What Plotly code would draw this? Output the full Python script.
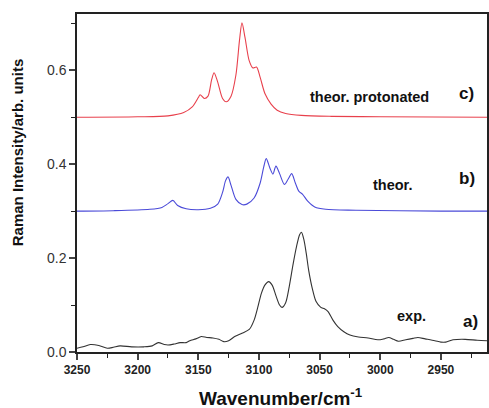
import plotly.graph_objects as go

# ---- data ----
red_x = [3250, 3200, 3175, 3162, 3155, 3150, 3148.5, 3145, 3142, 3139, 3137, 3134, 3130, 3127, 3123,
         3119, 3116, 3114, 3111.5, 3108, 3105, 3102, 3099, 3095, 3090, 3085, 3078, 3065, 3040, 3000, 2912]
red_y = [0.500, 0.501, 0.503, 0.510, 0.522, 0.542, 0.548, 0.540, 0.545, 0.580, 0.595, 0.575, 0.540, 0.533, 0.545,
         0.590, 0.665, 0.701, 0.670, 0.620, 0.605, 0.607, 0.585, 0.550, 0.528, 0.515, 0.508, 0.504, 0.502, 0.501, 0.500]

blue_x = [3250, 3220, 3190, 3180, 3175, 3171, 3167, 3160, 3150, 3140, 3134, 3130, 3127.5, 3125.5, 3123,
          3119, 3114, 3110, 3104, 3099, 3096, 3094, 3091, 3088.5, 3086, 3083, 3079, 3076, 3073, 3070,
          3067, 3064, 3060, 3054, 3045, 3020, 2950, 2912]
blue_y = [0.300, 0.301, 0.304, 0.308, 0.316, 0.323, 0.312, 0.305, 0.303, 0.306, 0.315, 0.340, 0.365, 0.373, 0.355,
          0.325, 0.314, 0.315, 0.328, 0.360, 0.395, 0.412, 0.392, 0.379, 0.396, 0.380, 0.357, 0.368, 0.380, 0.360,
          0.342, 0.336, 0.322, 0.309, 0.304, 0.302, 0.300, 0.300]

black_x = [3250, 3245, 3239, 3232, 3225, 3220, 3214.5, 3205, 3195, 3188, 3183, 3178, 3175, 3170, 3165, 3160,
           3157, 3152, 3147.5, 3143, 3138, 3133, 3129, 3125, 3120, 3114, 3108, 3104, 3101, 3098, 3095, 3092,
           3089, 3086, 3083, 3081, 3078, 3075, 3072, 3069, 3066.5, 3065, 3063, 3061, 3059, 3056, 3053, 3049,
           3046, 3043, 3039, 3035, 3030, 3025, 3018, 3010, 3002, 2997, 2993, 2989, 2985, 2979, 2973, 2969,
           2963, 2955, 2950, 2946, 2940, 2930, 2920, 2912]
black_y = [0.008, 0.011, 0.016, 0.014, 0.008, 0.010, 0.013, 0.011, 0.011, 0.013, 0.020, 0.016, 0.015, 0.017, 0.020, 0.020,
           0.024, 0.028, 0.033, 0.031, 0.030, 0.027, 0.022, 0.024, 0.033, 0.040, 0.048, 0.068, 0.095, 0.125, 0.143, 0.150,
           0.142, 0.120, 0.100, 0.095, 0.105, 0.140, 0.185, 0.225, 0.250, 0.255, 0.240, 0.210, 0.174, 0.135, 0.108, 0.095,
           0.092, 0.086, 0.068, 0.054, 0.043, 0.036, 0.032, 0.030, 0.026, 0.028, 0.031, 0.027, 0.023, 0.026, 0.029, 0.031,
           0.028, 0.024, 0.021, 0.021, 0.026, 0.027, 0.025, 0.024]

x_ticks = [3250, 3200, 3150, 3100, 3050, 3000, 2950]
y_ticks = [0.0, 0.2, 0.4, 0.6]
y_tick_labels = ["0.0", "0.2", "0.4", "0.6"]

labels = [("theor. protonated", 3008.8, 0.543, 14.5), ("c)", 2929, 0.551, 17),
          ("theor.", 2990, 0.355, 14.5), ("b)", 2928.5, 0.370, 17),
          ("exp.", 2974.4, 0.077, 14.5), ("a)", 2926, 0.066, 17)]

FONT = "Liberation Sans, Arial"

fig = go.Figure()
fig.add_trace(go.Scatter(x=black_x, y=black_y, mode="lines", line=dict(color="#333333", width=1.1, shape="spline", smoothing=0.8)))
fig.add_trace(go.Scatter(x=blue_x, y=blue_y, mode="lines", line=dict(color="#4a4ad8", width=1.1, shape="spline", smoothing=0.8)))
fig.add_trace(go.Scatter(x=red_x, y=red_y, mode="lines", line=dict(color="#e8404c", width=1.1, shape="spline", smoothing=0.8)))

for txt, xv, yv, sz in labels:
    fig.add_annotation(x=xv, y=yv, text=txt, showarrow=False, xanchor="center", yanchor="middle",
                       font=dict(family=FONT, size=sz, color="#111111", weight="bold"))

fig.add_annotation(xref="paper", yref="paper", x=(17.5 - 77) / 412, y=(352 - 152.5) / 338, text="Raman Intensity/arb. units",
                   textangle=-90, showarrow=False, xanchor="center", yanchor="middle",
                   font=dict(family=FONT, size=15, color="#111111", weight="bold"))
fig.add_annotation(xref="paper", yref="paper", x=(282 - 77) / 412, y=-(397 - 352) / 338, text="Wavenumber/cm<sup>-1</sup>",
                   showarrow=False, xanchor="center", yanchor="middle",
                   font=dict(family=FONT, size=19, color="#111111", weight="bold"))

fig.update_layout(
    width=489, height=408, showlegend=False,
    margin=dict(l=77, r=0, t=14, b=56),
    paper_bgcolor="white", plot_bgcolor="white",
    xaxis=dict(range=[3250, 2912], tickvals=x_ticks, ticks="outside", ticklen=6, tickwidth=1.5,
               showline=True, linecolor="#222222", linewidth=1.5, mirror=True, showgrid=False, zeroline=False,
               tickfont=dict(family=FONT, size=12, color="#222222", weight="bold"),
               minor=dict(dtick=25, tick0=3250, ticks="outside", ticklen=4, tickwidth=1, tickcolor="#222222")),
    yaxis=dict(range=[0, 0.72], tickvals=y_ticks, ticktext=y_tick_labels, ticks="outside", ticklen=6, tickwidth=1.5,
               showline=True, linecolor="#222222", linewidth=1.5, mirror=True, showgrid=False, zeroline=False,
               tickfont=dict(family=FONT, size=14, color="#333333"),
               minor=dict(dtick=0.1, tick0=0, ticks="outside", ticklen=4, tickwidth=1, tickcolor="#222222")),
)

fig.write_html("out.html")
